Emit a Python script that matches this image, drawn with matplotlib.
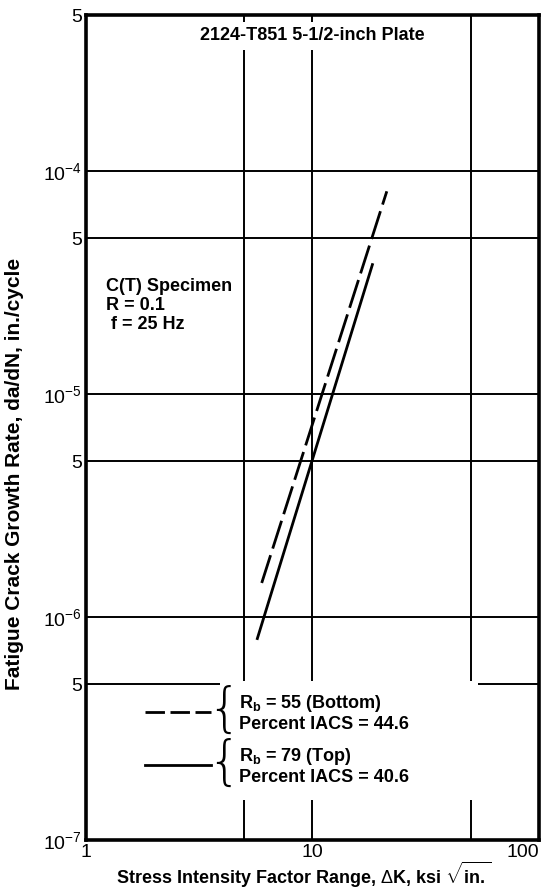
import numpy as np
import matplotlib
matplotlib.use("Agg")
import matplotlib.pyplot as plt
from matplotlib.patches import Rectangle

plt.rcParams['font.family'] = ['Liberation Sans', 'DejaVu Sans']
plt.rcParams['mathtext.fontset'] = 'custom'
plt.rcParams['mathtext.rm'] = 'Liberation Sans'
plt.rcParams['mathtext.bf'] = 'Liberation Sans:bold'
plt.rcParams['mathtext.it'] = 'Liberation Sans:italic'

# da/dN curves (endpoints of each straight log-log line)
dk_bottom = [5.97, 21.3]
rate_bottom = [1.42e-6, 8.1e-5]
dk_top = [5.71, 18.4]
rate_top = [8.0e-7, 3.8e-5]

x_ticks = [1, 5, 10, 50, 100]
x_labels = ['1', '', '10', '', '100']
y_ticks = [1e-7, 5e-7, 1e-6, 5e-6, 1e-5, 5e-5, 1e-4, 5e-4]
y_labels = [r'$10^{-7}$', '5', r'$10^{-6}$', '5', r'$10^{-5}$', '5', r'$10^{-4}$', '5']

legend_labels = [r'$\mathbf{R}_{\mathbf{b}}$ = 55 (Bottom)' + '\nPercent IACS = 44.6',
                 r'$\mathbf{R}_{\mathbf{b}}$ = 79 (Top)' + '\nPercent IACS = 40.6']

fig = plt.figure(figsize=(5.46, 8.93), dpi=100)
ax = fig.add_axes([0.1575, 0.0594, 0.8295, 0.9238])
ax.set_xscale('log')
ax.set_yscale('log')
ax.set_xlim(1, 100)
ax.set_ylim(1e-7, 5e-4)

ax.set_xticks(x_ticks)
ax.set_xticklabels(x_labels, fontsize=14)
ax.get_xticklabels()[-1].set_ha('right')
ax.set_yticks(y_ticks)
ax.set_yticklabels(y_labels, fontsize=14)
ax.minorticks_off()
ax.tick_params(length=0, pad=3)
ax.grid(True, color='black', lw=1.4)
for s in ax.spines.values():
    s.set_linewidth(2.6)

# blank area behind the legend (grid is broken there in the original)
ax.add_patch(Rectangle((0.296, 0.048), 0.569, 0.145, transform=ax.transAxes,
                       facecolor='white', edgecolor='none', zorder=2))

ax.plot(dk_bottom, rate_bottom, color='black', lw=2.0, dashes=(10.5, 2.5), zorder=3)
ax.plot(dk_top, rate_top, color='black', lw=2.0, zorder=3)

ax.text(0.5, 0.975, '2124-T851 5-1/2-inch Plate', transform=ax.transAxes,
        ha='center', va='center', fontsize=13, fontweight='bold', zorder=4,
        bbox=dict(facecolor='white', edgecolor='none', pad=4))
ax.text(0.044, 0.648, 'C(T) Specimen\nR = 0.1\n f = 25 Hz', transform=ax.transAxes,
        ha='left', va='center', fontsize=13, fontweight='bold', linespacing=1.15, zorder=4)

# hand-drawn style legend with braces
samples = [(dict(dashes=(7, 2)), 0.155), (dict(), 0.091)]
for (style, yy), lab in zip(samples, legend_labels):
    ax.plot([0.13, 0.277], [yy, yy], transform=ax.transAxes, color='black', lw=2.0,
            zorder=4, **style)
    ax.text(0.305, yy + 0.001, '{', transform=ax.transAxes, ha='center', va='center',
            fontsize=38, family='DejaVu Sans', fontweight='light', zorder=4)
    ax.text(0.337, yy - 0.001, lab, transform=ax.transAxes, ha='left', va='center',
            fontsize=13, fontweight='bold', linespacing=1.15, zorder=4)

fig.text(0.027, 0.469, 'Fatigue Crack Growth Rate, da/dN, in./cycle', rotation=90,
         ha='center', va='center', fontsize=15, fontweight='bold')
fig.text(0.557, 0.003, r'Stress Intensity Factor Range, $\Delta$K, ksi $\sqrt{\mathbf{in.}}$',
         ha='center', va='bottom', fontsize=13, fontweight='bold')

fig.savefig('out.png', dpi=100)
